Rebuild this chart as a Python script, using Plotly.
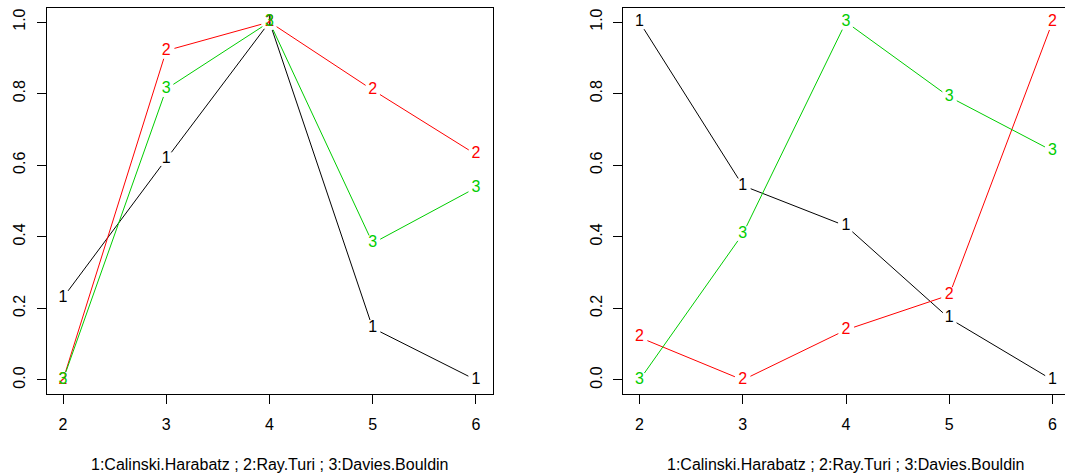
import plotly.graph_objects as go

# ---- data ----
k_values = [2, 3, 4, 5, 6]
series_labels = ["1", "2", "3"]
series_names = ["Calinski.Harabatz", "Ray.Turi", "Davies.Bouldin"]
series_colors = ["#000000", "#FF0000", "#00CD00"]

left_calinski = [0.23, 0.617, 1.0, 0.145, 0.0]
left_rayturi = [0.0, 0.92, 1.0, 0.81, 0.63]
left_davies = [0.0, 0.813, 1.0, 0.382, 0.537]

right_calinski = [1.0, 0.543, 0.43, 0.172, 0.0]
right_rayturi = [0.119, 0.0, 0.14, 0.237, 1.0]
right_davies = [0.0, 0.408, 1.0, 0.791, 0.64]

x_ticks = [2, 3, 4, 5, 6]
y_ticks = [0.0, 0.2, 0.4, 0.6, 0.8, 1.0]
y_tick_text = ["0.0", "0.2", "0.4", "0.6", "0.8", "1.0"]
xlabel = "1:Calinski.Harabatz ; 2:Ray.Turi ; 3:Davies.Bouldin"

# ---- layout geometry (pixels) ----
W, H = 1065, 476
FONT = "Liberation Sans, Arial, sans-serif"
plot_top_px, plot_bot_px = 7.7, 394.3
px_per_x = 103.24
left_dom_px = (46.5, 492.5)
right_dom_px = (623.0, 1065.0)
x_lo = 2 - 0.04 * 4
y_range = [-0.04, 1.04]
left_xrange = [x_lo, x_lo + (left_dom_px[1] - left_dom_px[0]) / px_per_x]
right_xrange = [x_lo, x_lo + (right_dom_px[1] - right_dom_px[0]) / px_per_x]
px_per_y = (plot_bot_px - plot_top_px) / (y_range[1] - y_range[0])
GAP = 8.5  # gap (px) around each plotted character, like R type="b"

fig = go.Figure()


def gapped_segments(xs, ys):
    sx, sy = [], []
    for i in range(len(xs) - 1):
        dx = (xs[i + 1] - xs[i]) * px_per_x
        dy = (ys[i + 1] - ys[i]) * px_per_y
        d = (dx * dx + dy * dy) ** 0.5
        if d <= 2 * GAP:
            continue
        f = GAP / d
        sx += [xs[i] + (xs[i + 1] - xs[i]) * f, xs[i + 1] - (xs[i + 1] - xs[i]) * f, None]
        sy += [ys[i] + (ys[i + 1] - ys[i]) * f, ys[i + 1] - (ys[i + 1] - ys[i]) * f, None]
    return sx, sy


panels = [
    ("x", "y", [left_calinski, left_rayturi, left_davies]),
    ("x2", "y2", [right_calinski, right_rayturi, right_davies]),
]

for xa, ya, data in panels:
    for vals, lab, col, name in zip(data, series_labels, series_colors, series_names):
        sx, sy = gapped_segments(k_values, vals)
        fig.add_trace(go.Scatter(x=sx, y=sy, mode="lines", xaxis=xa, yaxis=ya,
                                 line=dict(color=col, width=1), showlegend=False,
                                 hoverinfo="skip"))
    for vals, lab, col, name in zip(data, series_labels, series_colors, series_names):
        fig.add_trace(go.Scatter(x=k_values, y=vals, mode="text", xaxis=xa, yaxis=ya,
                                 text=[lab] * len(k_values), textposition="middle center",
                                 textfont=dict(family=FONT, size=16, color=col),
                                 name=name, showlegend=False, cliponaxis=False))

ydom = [(H - plot_bot_px) / H, (H - plot_top_px) / H]
axis_common = dict(showgrid=False, zeroline=False, showline=True, linecolor="black",
                   linewidth=1, ticks="outside", ticklen=9, tickcolor="black", tickwidth=1,
                   tickfont=dict(family=FONT, size=16, color="black"))

fig.update_layout(
    width=W, height=H, margin=dict(l=0, r=0, t=0, b=0),
    paper_bgcolor="white", plot_bgcolor="white",
    xaxis=dict(domain=[left_dom_px[0] / W, left_dom_px[1] / W], range=left_xrange,
               tickvals=x_ticks, mirror=True, anchor="y", ticklabelstandoff=6, **axis_common),
    yaxis=dict(domain=ydom, range=y_range, tickvals=y_ticks, ticktext=y_tick_text,
               tickangle=-90, mirror=True, anchor="x", ticklabelstandoff=5, **axis_common),
    xaxis2=dict(domain=[right_dom_px[0] / W, right_dom_px[1] / W], range=right_xrange,
                tickvals=x_ticks, mirror=True, anchor="y2", ticklabelstandoff=6, **axis_common),
    yaxis2=dict(domain=ydom, range=y_range, tickvals=y_ticks, ticktext=y_tick_text,
                tickangle=-90, mirror=False, anchor="x2", ticklabelstandoff=5, **axis_common),
    annotations=[
        dict(text=xlabel, x=(left_dom_px[0] + left_dom_px[1]) / 2 / W, y=(H - 464) / H,
             xref="paper", yref="paper", xanchor="center", yanchor="middle",
             showarrow=False, font=dict(family=FONT, size=16, color="black")),
        dict(text=xlabel, x=(right_dom_px[0] + 1068.5) / 2 / W, y=(H - 464) / H,
             xref="paper", yref="paper", xanchor="center", yanchor="middle",
             showarrow=False, font=dict(family=FONT, size=16, color="black")),
    ],
)

fig.write_html("out.html", config={"displayModeBar": False},
               post_script="document.body.style.margin='0';document.body.style.overflow='hidden';")
